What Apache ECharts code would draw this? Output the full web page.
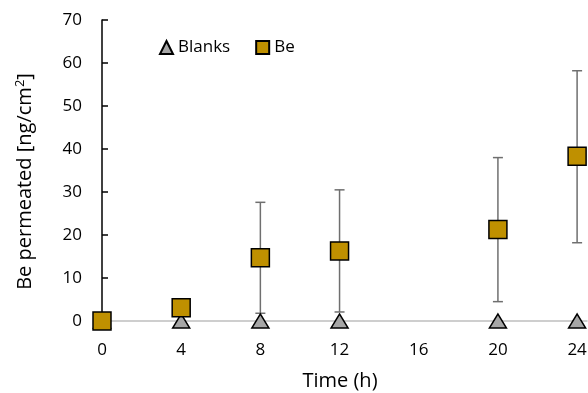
<!DOCTYPE html>
<html><head><meta charset="utf-8">
<script src="https://cdn.jsdelivr.net/npm/echarts@6/dist/echarts.min.js"></script>
<style>html,body{margin:0;padding:0;background:#fff}#c{width:588px;height:393px}</style>
</head><body><div id="c"></div>
<script>
const times = [0, 4, 8, 12, 20, 24];
const blanks = [0, 0, 0, 0, 0, 0];
const be = [0, 3.1, 14.7, 16.3, 21.3, 38.3];
const beLow = [null, null, 1.8, 2.1, 4.5, 18.2];
const beHigh = [null, null, 27.6, 30.5, 38.0, 58.2];
const xTicks = [0, 4, 8, 12, 16, 20, 24];
const yTicks = [0, 10, 20, 30, 40, 50, 60, 70];

const font = '"Open Sans", "Liberation Sans", sans-serif';
const chart = echarts.init(document.getElementById('c'));
const errData = times.map((t, i) => [t, beLow[i], beHigh[i]]).filter(d => d[1] !== null);

chart.setOption({
  animation: false,
  textStyle: { fontFamily: font },
  grid: { left: 102, right: 1, top: 20, bottom: 72, containLabel: false, outerBoundsMode: 'none' },
  legend: {
    left: 154, top: 34, itemWidth: 13, itemHeight: 13, itemGap: 25,
    textStyle: { fontSize: 17, color: '#000', fontFamily: font },
    data: [{ name: 'Blanks', icon: 'triangle' }, { name: 'Be', icon: 'rect' }]
  },
  xAxis: {
    type: 'value', min: 0, max: 24.5, interval: 4,
    name: 'Time (h)', nameLocation: 'middle', nameGap: 50,
    nameTextStyle: { fontSize: 20, color: '#000', fontFamily: font, padding: [0, 9, 0, 0] },
    axisLine: { show: true, onZero: false, lineStyle: { color: '#bfbfbf', width: 1.5 } },
    axisTick: { show: false },
    splitLine: { show: false },
    axisLabel: {
      fontSize: 17, color: '#000', margin: 21, fontFamily: font,
      formatter: v => (xTicks.indexOf(v) >= 0 ? String(v) : '')
    }
  },
  yAxis: {
    type: 'value', min: 0, max: 70, interval: 10,
    name: 'Be permeated [ng/cm{sup|2}]', nameLocation: 'middle', nameGap: 66,
    nameTextStyle: {
      fontSize: 20, color: '#000', fontFamily: font, padding: [0, 22, 0, 0],
      rich: { sup: { fontSize: 13, verticalAlign: 'top', padding: [0, 0, 9, 0], color: '#000', fontFamily: font } }
    },
    axisLine: { show: true, lineStyle: { color: '#000', width: 1.5 } },
    axisTick: { show: true, inside: true, length: 6, lineStyle: { color: '#000', width: 1.5 } },
    splitLine: { show: false },
    axisLabel: {
      fontSize: 17, color: '#000', margin: 20, fontFamily: font,
      formatter: v => (yTicks.indexOf(v) >= 0 ? String(v) : '')
    }
  },
  series: [
    {
      type: 'custom', name: 'err', z: 1, clip: false,
      data: errData,
      renderItem: function (params, api) {
        const x = api.value(0);
        const lo = api.coord([x, api.value(1)]);
        const hi = api.coord([x, api.value(2)]);
        const w = 5;
        const st = { stroke: '#6f6f6f', lineWidth: 1.5 };
        return {
          type: 'group',
          children: [
            { type: 'line', shape: { x1: lo[0], y1: lo[1], x2: hi[0], y2: hi[1] }, style: st },
            { type: 'line', shape: { x1: lo[0] - w, y1: lo[1], x2: lo[0] + w, y2: lo[1] }, style: st },
            { type: 'line', shape: { x1: hi[0] - w, y1: hi[1], x2: hi[0] + w, y2: hi[1] }, style: st }
          ]
        };
      }
    },
    {
      type: 'scatter', name: 'Blanks', z: 3, clip: false,
      symbol: 'triangle', symbolSize: [17, 14],
      itemStyle: { color: '#a6a6a6', borderColor: '#000', borderWidth: 1.5, opacity: 1 },
      data: times.map((t, i) => [t, blanks[i]])
    },
    {
      type: 'scatter', name: 'Be', z: 4, clip: false,
      symbol: 'rect', symbolSize: 18,
      itemStyle: { color: '#bf9000', borderColor: '#000', borderWidth: 1.5, opacity: 1 },
      data: times.map((t, i) => [t, be[i]])
    }
  ]
});
</script></body></html>
